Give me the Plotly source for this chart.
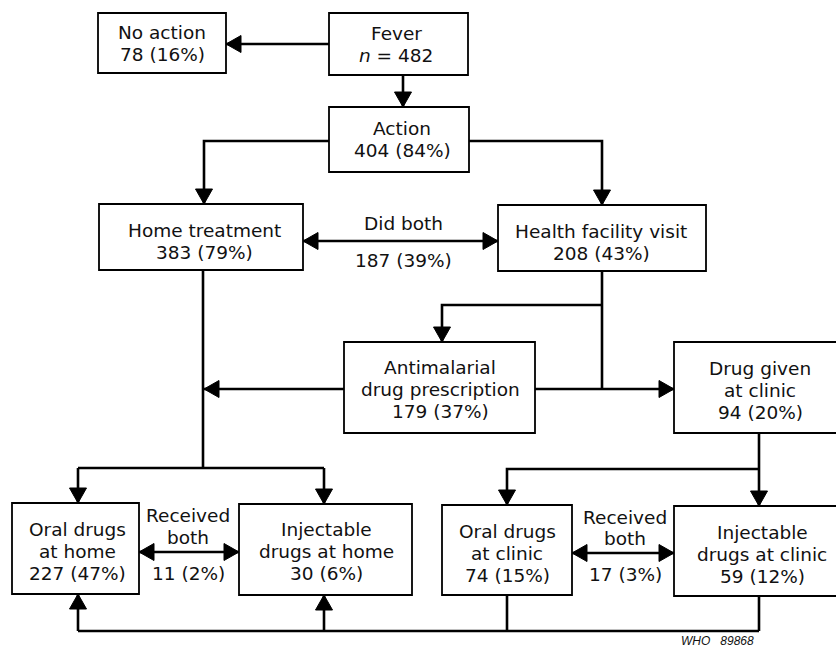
import plotly.graph_objects as go

# ---------------- data ----------------
node_keys = ["fever", "noaction", "action", "home", "hfv", "antimal",
             "druggiven", "oralhome", "injhome", "oralclinic", "injclinic"]
node_titles = [["Fever"], ["No action"], ["Action"], ["Home treatment"],
               ["Health facility visit"], ["Antimalarial", "drug prescription"],
               ["Drug given", "at clinic"], ["Oral drugs", "at home"],
               ["Injectable", "drugs at home"], ["Oral drugs", "at clinic"],
               ["Injectable", "drugs at clinic"]]
node_counts = [482, 78, 404, 383, 208, 179, 94, 227, 30, 74, 59]
node_pcts = [None, 16, 84, 79, 43, 37, 20, 47, 6, 15, 12]

both_titles = [["Did both"], ["Received", "both"], ["Received", "both"]]
both_counts = [187, 11, 17]
both_pcts = [39, 2, 3]

credit = "WHO   89868"

# ---------------- layout (pixel geometry) ----------------
W, H = 836, 648
boxes = {  # x0, y0, x1, y1
    "fever": (329, 13, 468, 75),
    "noaction": (98, 13, 226, 73),
    "action": (329, 107, 469, 172),
    "home": (99, 204, 303, 270),
    "hfv": (498, 205, 706, 271),
    "antimal": (344, 342, 535, 433),
    "druggiven": (674, 342, 845, 433),
    "oralhome": (12, 503, 139, 594),
    "injhome": (239, 504, 412, 595),
    "oralclinic": (442, 505, 572, 595),
    "injclinic": (674, 506, 845, 596),
}
text_pos = {  # text block centre
    "fever": (396, 44.5), "noaction": (162, 43.5), "action": (402, 139),
    "home": (204, 241), "hfv": (601, 242), "antimal": (440, 389),
    "druggiven": (760, 390), "oralhome": (77, 551), "injhome": (326, 551),
    "oralclinic": (507, 553), "injclinic": (762, 554),
}
both_pos = [  # x, title line ys, count y
    (403, [223], 260),
    (188, [515, 537], 573),
    (625, [517, 538], 574),
]
LINE_H = 22
FONT = dict(family="DejaVu Sans", size=18.5, color="#111")

# polylines; last point gets an arrowhead if flagged, first point too if 'both'
edges = [
    ([(329, 44), (226, 44)], "end"),
    ([(403, 75), (403, 107)], "end"),
    ([(329, 141), (204, 141), (204, 204)], "end"),
    ([(469, 141), (602, 141), (602, 205)], "end"),
    ([(303, 241), (498, 241)], "both"),
    ([(602, 271), (602, 389)], None),
    ([(602, 305), (442, 305), (442, 342)], "end"),
    ([(535, 389), (674, 389)], "end"),
    ([(344, 389), (204, 389)], "end"),
    ([(203, 270), (203, 468)], None),
    ([(78, 468), (324, 468)], None),
    ([(78, 468), (78, 503)], "end"),
    ([(324, 468), (324, 504)], "end"),
    ([(139, 552), (239, 552)], "both"),
    ([(759, 433), (759, 506)], "end"),
    ([(759, 469), (507, 469), (507, 505)], "end"),
    ([(572, 553), (674, 553)], "both"),
    ([(507, 595), (507, 631)], None),
    ([(759, 596), (759, 631)], None),
    ([(78, 631), (759, 631)], None),
    ([(78, 631), (78, 594)], "end"),
    ([(324, 631), (324, 595)], "end"),
]

AL, AW = 15, 8.5  # arrowhead length, half-width

fig = go.Figure()
shapes = []
annotations = []


def arrowhead(p_from, p_to):
    (x0, y0), (x1, y1) = p_from, p_to
    dx, dy = x1 - x0, y1 - y0
    n = (dx * dx + dy * dy) ** 0.5
    ux, uy = dx / n, dy / n
    bx, by = x1 - ux * AL, y1 - uy * AL
    px, py = -uy * AW, ux * AW
    path = f"M{x1},{y1} L{bx + px},{by + py} L{bx - px},{by - py} Z"
    return dict(type="path", path=path, xref="x", yref="y",
                fillcolor="#000", line=dict(color="#000", width=1))


for pts, arrow in edges:
    path = "M" + " L".join(f"{x},{y}" for x, y in pts)
    shapes.append(dict(type="path", path=path, xref="x", yref="y",
                       line=dict(color="#000", width=2.6)))
    if arrow in ("end", "both"):
        shapes.append(arrowhead(pts[-2], pts[-1]))
    if arrow == "both":
        shapes.append(arrowhead(pts[1], pts[0]))

for key, titles, cnt, pct in zip(node_keys, node_titles, node_counts, node_pcts):
    x0, y0, x1, y1 = boxes[key]
    shapes.append(dict(type="rect", x0=x0, y0=y0, x1=x1, y1=y1, xref="x", yref="y",
                       line=dict(color="#000", width=1.8), fillcolor="rgba(0,0,0,0)"))
    if pct is None:
        lines = titles + [f"<i>n</i> = {cnt}"]
    else:
        lines = titles + [f"{cnt} ({pct}%)"]
    cx, cy = text_pos[key]
    n = len(lines)
    for i, t in enumerate(lines):
        y = cy + (i - (n - 1) / 2) * LINE_H
        annotations.append(dict(x=cx, y=y, xref="x", yref="y", text=t,
                                showarrow=False, font=FONT,
                                xanchor="center", yanchor="middle"))

for (bx, tys, cy), titles, cnt, pct in zip(both_pos, both_titles, both_counts, both_pcts):
    for t, ty in zip(titles, tys):
        annotations.append(dict(x=bx, y=ty, xref="x", yref="y", text=t,
                                showarrow=False, font=FONT,
                                xanchor="center", yanchor="middle"))
    annotations.append(dict(x=bx, y=cy, xref="x", yref="y", text=f"{cnt} ({pct}%)",
                            showarrow=False, font=FONT,
                            xanchor="center", yanchor="middle"))

annotations.append(dict(x=717, y=641, xref="x", yref="y", text=f"<i>{credit}</i>",
                        showarrow=False,
                        font=dict(family="Liberation Sans Narrow, Liberation Sans",
                                  size=12, color="#111"),
                        xanchor="center", yanchor="middle"))

fig.update_layout(
    width=W, height=H, margin=dict(l=0, r=0, t=0, b=0),
    paper_bgcolor="white", plot_bgcolor="white",
    xaxis=dict(range=[0, W], visible=False, fixedrange=True),
    yaxis=dict(range=[H, 0], visible=False, fixedrange=True),
    shapes=shapes, annotations=annotations, showlegend=False,
)

fig.write_html(
    "out.html",
    config={"displayModeBar": False},
    post_script="document.body.style.margin='0';"
                "document.documentElement.style.overflow='hidden';",
)
